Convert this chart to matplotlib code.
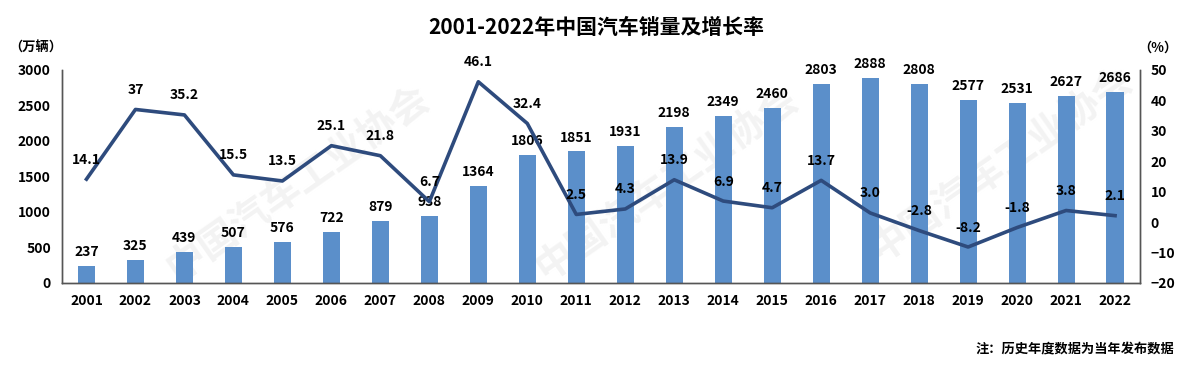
import matplotlib
matplotlib.use("Agg")
import matplotlib.pyplot as plt
import numpy as np

plt.rcParams['font.family'] = ['Noto Sans CJK SC', 'DejaVu Sans']

years = ['2001', '2002', '2003', '2004', '2005', '2006', '2007', '2008', '2009', '2010', '2011',
         '2012', '2013', '2014', '2015', '2016', '2017', '2018', '2019', '2020', '2021', '2022']
sales = [237, 325, 439, 507, 576, 722, 879, 938, 1364, 1806, 1851,
         1931, 2198, 2349, 2460, 2803, 2888, 2808, 2577, 2531, 2627, 2686]
growth = [14.1, 37, 35.2, 15.5, 13.5, 25.1, 21.8, 6.7, 46.1, 32.4, 2.5,
          4.3, 13.9, 6.9, 4.7, 13.7, 3.0, -2.8, -8.2, -1.8, 3.8, 2.1]
growth_txt = ['14.1', '37', '35.2', '15.5', '13.5', '25.1', '21.8', '6.7', '46.1', '32.4', '2.5',
              '4.3', '13.9', '6.9', '4.7', '13.7', '3.0', '-2.8', '-8.2', '-1.8', '3.8', '2.1']

bar_c = '#5B8FCA'
line_c = '#2E4B7D'

fig = plt.figure(figsize=(11.92, 3.66), dpi=100)
ax = fig.add_axes([0.052, 0.227, 0.904, 0.582])
ax2 = ax.twinx()

# faint watermark behind the bars
for wx, wy in [(0.25, 0.5), (0.56, 0.5), (0.84, 0.55)]:
    ax.text(wx, wy, '中国汽车工业协会', transform=fig.transFigure, ha='center', va='center',
            fontsize=28, fontweight='bold', color='#f3f3f3', rotation=35, zorder=0)

x = np.arange(len(years))
ax.bar(x, sales, width=0.35, color=bar_c, zorder=2)
for xi, v in zip(x, sales):
    ax.annotate(str(v), (xi, v), xytext=(0, 5), textcoords='offset points',
                ha='center', va='bottom', fontsize=10, fontweight='bold', zorder=4)

ax2.plot(x, growth, color=line_c, lw=2.6, zorder=3)
for xi, v, t in zip(x, growth, growth_txt):
    ax2.annotate(t, (xi, v), xytext=(0, 9), textcoords='offset points',
                 ha='center', va='bottom', fontsize=10, fontweight='bold')

ax.set_xlim(-0.5, len(years) - 0.5)
ax.set_ylim(0, 3000)
ax.set_yticks(np.arange(0, 3001, 500))
ax2.set_ylim(-20, 50)
ax2.set_yticks(np.arange(-20, 51, 10))
ax.set_xticks(x)
ax.set_xticklabels(years)

for a in (ax, ax2):
    for s in a.spines.values():
        s.set_color('#555555')
        s.set_linewidth(1.0)
    a.spines['top'].set_visible(False)
    a.tick_params(length=0, labelsize=10, pad=8)
    for lab in a.get_xticklabels() + a.get_yticklabels():
        lab.set_fontweight('bold')
ax2.set_zorder(ax.get_zorder() + 1)
ax2.patch.set_visible(False)

fig.text(0.5, 0.925, '2001-2022年中国汽车销量及增长率', ha='center', va='center',
         fontsize=15, fontweight='bold')
fig.text(0.008, 0.87, '（万辆）', ha='left', va='center', fontsize=9.5, fontweight='bold')
fig.text(0.955, 0.87, '（%）', ha='left', va='center', fontsize=9.5, fontweight='bold')
fig.text(0.985, 0.045, '注：历史年度数据为当年发布数据', ha='right', va='center',
         fontsize=9.5, fontweight='bold')

fig.savefig('out.png', dpi=100)
